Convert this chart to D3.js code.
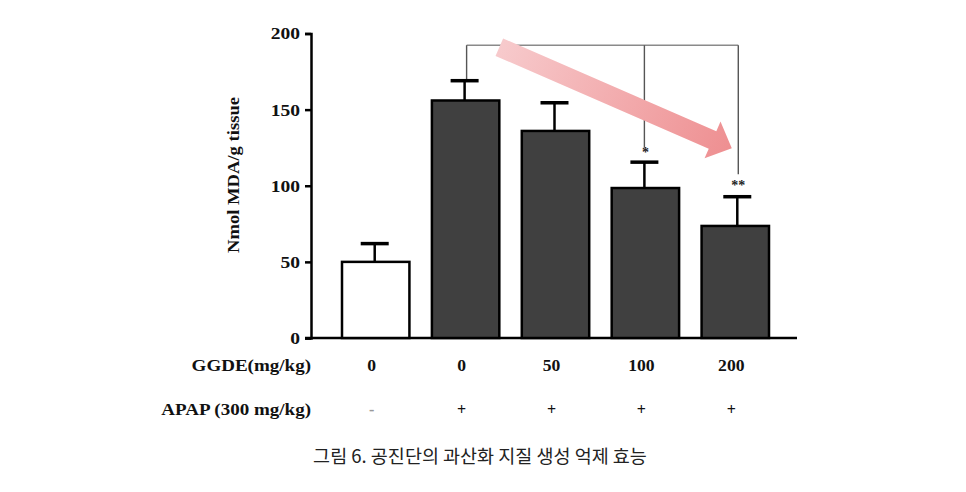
<!DOCTYPE html>
<html>
<head>
<meta charset="utf-8">
<script src="https://cdn.jsdelivr.net/npm/d3@7"></script>
<style>
  body { margin: 0; background: #fff; }
</style>
</head>
<body>
<div id="container"></div>
<script>
// MDA level for each group, with the top of the error bar
const groups = ["ctrl", "apap", "g50", "g100", "g200"];
const mda = [50, 156, 136, 98.5, 73.6];
const errTop = [62, 169, 154.5, 115.5, 92.8];
const ggde = ["0", "0", "50", "100", "200"];
const apap = ["-", "+", "+", "+", "+"];
const stars = ["", "", "", "*", "**"];
const yTicks = [0, 50, 100, 150, 200];

const width = 966;
const height = 492;
const serif = "'Liberation Serif', 'DejaVu Serif', serif";

// the scanned figure is a bit wider than normal type, so stretch text sideways
function stretch(sel, k) {
    sel.each(function () {
        const t = d3.select(this);
        const x = +t.attr("x") || 0;
        const y = +t.attr("y") || 0;
        t.attr("transform", `translate(${x},${y}) scale(${k},1) translate(${-x},${-y})`);
    });
}

const svg = d3.select("#container")
    .append("svg")
    .attr("width", width)
    .attr("height", height);

// scales
const yScale = d3.scaleLinear()
    .domain([0, 200])
    .range([338, 33.5]);

const xScale = d3.scaleBand()
    .domain(groups)
    .range([342, 769])
    .paddingInner(0.25)
    .paddingOuter(0);

const cx = g => xScale(g) + xScale.bandwidth() / 2;

// left axis
const yAxis = svg.append("g")
    .attr("transform", "translate(311,0)")
    .call(d3.axisLeft(yScale).tickValues(yTicks).tickSize(6).tickPadding(5));
yAxis.select(".domain").attr("stroke", "#000").attr("stroke-width", 2.5);
yAxis.selectAll(".tick line").attr("stroke", "#000").attr("stroke-width", 2.5);
yAxis.selectAll(".tick text")
    .attr("font-family", serif)
    .attr("font-weight", "bold")
    .attr("font-size", 17)
    .attr("fill", "#111")
    .call(stretch, 1.15);

// bottom line
svg.append("line")
    .attr("x1", 305)
    .attr("x2", 797)
    .attr("y1", yScale(0))
    .attr("y2", yScale(0))
    .attr("stroke", "#000")
    .attr("stroke-width", 2.5);

// y title
svg.append("text")
    .attr("transform", `translate(239,${(97 + 253) / 2}) rotate(-90)`)
    .attr("text-anchor", "middle")
    .attr("font-family", serif)
    .attr("font-weight", "bold")
    .attr("font-size", 17)
    .attr("textLength", 156)
    .attr("lengthAdjust", "spacingAndGlyphs")
    .attr("fill", "#111")
    .text("Nmol MDA/g tissue");

// significance bracket (under the arrow)
const bracketY = yScale(192.3);
const bracketFrom = [1, 3, 4];
svg.append("line")
    .attr("x1", cx(groups[1]) + 1)
    .attr("x2", cx(groups[4]) + 3)
    .attr("y1", bracketY)
    .attr("y2", bracketY)
    .attr("stroke", "#8a8a8a")
    .attr("stroke-width", 1.6);
const dropEnd = [errTop[1], 125, 107.5];
bracketFrom.forEach((i, k) => {
    const x = cx(groups[i]) + (i === 4 ? 3 : i === 1 ? 1 : -1);
    svg.append("line")
        .attr("x1", x)
        .attr("x2", x)
        .attr("y1", bracketY)
        .attr("y2", yScale(dropEnd[k]))
        .attr("stroke", "#555")
        .attr("stroke-width", 1.4);
});

// bars
groups.forEach((g, i) => {
    svg.append("rect")
        .attr("x", xScale(g))
        .attr("y", yScale(mda[i]))
        .attr("width", xScale.bandwidth())
        .attr("height", yScale(0) - yScale(mda[i]))
        .attr("fill", i === 0 ? "#fff" : "#404040")
        .attr("stroke", "#000")
        .attr("stroke-width", 2.5);

    // error bar
    const ex = cx(g) + (i === 4 ? 2 : -1);
    svg.append("line")
        .attr("x1", ex)
        .attr("x2", ex)
        .attr("y1", yScale(mda[i]))
        .attr("y2", yScale(errTop[i]))
        .attr("stroke", "#000")
        .attr("stroke-width", 2.5);
    svg.append("line")
        .attr("x1", ex - 14)
        .attr("x2", ex + 14)
        .attr("y1", yScale(errTop[i]))
        .attr("y2", yScale(errTop[i]))
        .attr("stroke", "#000")
        .attr("stroke-width", 3.5);

    // stars
    if (stars[i]) {
        svg.append("text")
            .attr("x", ex + 1)
            .attr("y", yScale(errTop[i]) - (i === 4 ? 7 : 5))
            .attr("text-anchor", "middle")
            .attr("font-family", serif)
            .attr("font-weight", "bold")
            .attr("font-size", 14)
            .attr("fill", "#222")
            .text(stars[i]);
    }

    // dose rows
    svg.append("text")
        .attr("x", cx(g) - 4)
        .attr("y", 371)
        .attr("text-anchor", "middle")
        .attr("font-family", serif)
        .attr("font-weight", "bold")
        .attr("font-size", 16)
        .attr("fill", "#111")
        .text(ggde[i])
        .call(stretch, 1.1);
    svg.append("text")
        .attr("x", cx(g) - 4)
        .attr("y", 415)
        .attr("text-anchor", "middle")
        .attr("font-family", serif)
        .attr("font-weight", "bold")
        .attr("font-size", 16)
        .attr("fill", apap[i] === "-" ? "#999" : "#111")
        .text(apap[i]);
});

// row labels
svg.append("text")
    .attr("x", 311)
    .attr("y", 371)
    .attr("text-anchor", "end")
    .attr("font-family", serif)
    .attr("font-weight", "bold")
    .attr("font-size", 17)
    .attr("fill", "#111")
    .text("GGDE(mg/kg)")
    .call(stretch, 1.12);
svg.append("text")
    .attr("x", 311)
    .attr("y", 415)
    .attr("text-anchor", "end")
    .attr("font-family", serif)
    .attr("font-weight", "bold")
    .attr("font-size", 17)
    .attr("fill", "#111")
    .text("APAP (300 mg/kg)")
    .call(stretch, 1.12);

// pink trend arrow, from bar 2 down to bar 5
const tail = [xScale(groups[1]) + xScale.bandwidth(), yScale(191)];
const tip = [cx(groups[4]) - 3.5, yScale(124.6)];
const len = Math.hypot(tip[0] - tail[0], tip[1] - tail[1]);
const ang = Math.atan2(tip[1] - tail[1], tip[0] - tail[0]) * 180 / Math.PI;
const shaftW = 9.5, headW = 20, headL = 21;

const grad = svg.append("defs").append("linearGradient")
    .attr("id", "arrow-grad")
    .attr("gradientUnits", "userSpaceOnUse")
    .attr("x1", 0).attr("y1", 0)
    .attr("x2", len).attr("y2", 0);
grad.append("stop").attr("offset", "0%").attr("stop-color", "#f7cacc");
grad.append("stop").attr("offset", "100%").attr("stop-color", "#ee8f91");

svg.append("g")
    .attr("transform", `translate(${tail[0]},${tail[1]}) rotate(${ang})`)
    .append("path")
    .attr("d", d3.line()([
        [0, -shaftW], [len - headL, -shaftW], [len - headL, -headW],
        [len, 0],
        [len - headL, headW], [len - headL, shaftW], [0, shaftW]
    ]) + "Z")
    .attr("fill", "url(#arrow-grad)");

// caption
svg.append("text")
    .attr("x", 480)
    .attr("y", 463)
    .attr("text-anchor", "middle")
    .attr("font-family", "'Noto Sans CJK KR', 'Noto Sans', sans-serif")
    .attr("font-size", 18.5)
    .attr("fill", "#222")
    .text("그림 6. 공진단의 과산화 지질 생성 억제 효능");
</script>
</body>
</html>
